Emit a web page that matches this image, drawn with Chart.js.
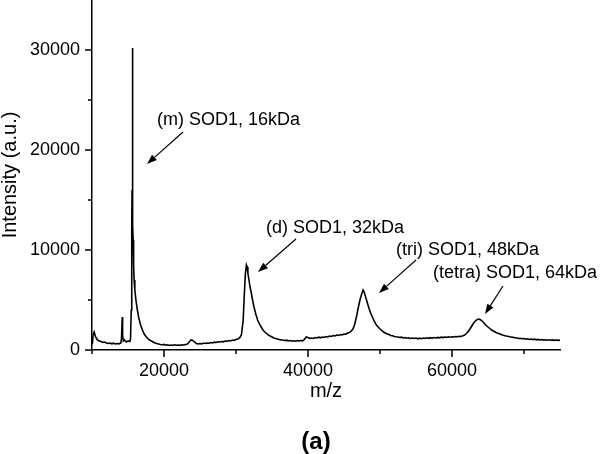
<!DOCTYPE html>
<html>
<head>
<meta charset="utf-8">
<script src="https://cdn.jsdelivr.net/npm/chart.js@4/dist/chart.umd.min.js"></script>
<style>
  html, body { margin: 0; padding: 0; background: #fff; }
  canvas { display: block; }
</style>
</head>
<body>
<canvas id="c" width="600" height="454"></canvas>
<script>
// ---- data ----
const massCharge = [
  10050,10150,10300,10500,10750,11000,11250,11500,11750,12000,12250,12500,12750,13000,13250,13500,13750,14000,
  14100,14200,14250,14350,14500,14750,15000,15250,15350,15450,15520,15560,15600,15640,15680,15720,15780,15850,15950,
  16100,16300,16500,16750,17000,17250,17500,17750,18000,18250,18500,18750,19000,19250,19500,19750,
  20000,20250,20500,20750,21000,21250,21500,21750,22000,22250,22500,22750,23000,23250,23500,23750,
  24000,24250,24500,24750,25000,25250,25500,25750,26000,26250,26500,26750,27000,27250,27500,27750,
  28000,28250,28500,28750,29000,29250,29500,29750,30000,30250,30500,30750,31000,31150,31300,31450,31550,31650,31800,31950,
  32100,32300,32500,32750,33000,33250,33500,33750,34000,34250,34500,34750,35000,35250,35500,35750,
  36000,36250,36500,36750,37000,37250,37500,37750,38000,38250,38500,38750,39000,39250,39500,39750,
  40000,40250,40500,40750,41000,41250,41500,41750,42000,42250,42500,42750,43000,43250,43500,43750,
  44000,44250,44500,44750,45000,45250,45500,45750,46000,46250,46500,46750,47000,47250,47500,47650,47800,
  48000,48250,48500,48750,49000,49250,49500,49750,50000,50250,50500,50750,51000,51250,51500,51750,
  52000,52250,52500,52750,53000,53250,53500,53750,54000,54250,54500,54750,55000,55250,55500,55750,
  56000,56250,56500,56750,57000,57250,57500,57750,58000,58250,58500,58750,59000,59250,59500,59750,
  60000,60250,60500,60750,61000,61250,61500,61750,62000,62250,62500,62750,63000,63250,63500,63750,
  64000,64250,64500,64750,65000,65250,65500,65750,66000,66250,66500,66750,67000,67250,67500,67750,
  68000,68250,68500,68750,69000,69250,69500,69750,70000,70250,70500,70750,71000,71250,71500,71750,
  72000,72250,72500,72750,73000,73250,73500,73750,74000,74250,74500,74750,75000
];
const intensity = [
  600,1500,1800,1300,1000,900,850,750,800,700,650,700,620,680,600,650,620,700,
  1200,3300,1500,900,1000,800,900,850,1100,4000,12000,16000,30200,15000,12500,11000,8500,7000,6000,
  5000,4000,3200,2500,2000,1600,1350,1150,1000,900,800,700,650,600,550,520,
  560,480,520,450,500,470,520,480,500,460,520,500,550,600,800,1000,
  950,800,650,600,650,600,700,650,700,680,750,700,780,750,820,800,
  850,820,900,880,950,900,1000,950,1050,1100,1200,1500,3000,5500,7600,8500,8300,7700,7000,6300,
  5800,5000,4300,3600,3000,2600,2300,2000,1800,1650,1500,1400,1300,1200,1150,1100,
  1050,1000,1000,950,980,900,950,900,930,880,950,900,950,920,1050,1300,
  1250,1150,1200,1150,1250,1200,1280,1220,1300,1250,1350,1300,1400,1350,1450,1400,
  1500,1450,1550,1500,1600,1580,1700,1750,1900,2100,2600,3400,4300,5100,5700,6000,5800,
  5300,4700,4100,3600,3200,2800,2500,2300,2100,1950,1800,1700,1600,1550,1450,1420,
  1350,1320,1300,1250,1280,1200,1250,1180,1220,1150,1200,1150,1200,1120,1180,1130,
  1200,1150,1220,1170,1230,1180,1250,1200,1260,1220,1280,1240,1300,1260,1320,1280,
  1330,1300,1350,1330,1380,1350,1420,1500,1650,1850,2100,2400,2700,2900,3050,3100,
  3000,2850,2650,2450,2300,2150,2000,1900,1800,1700,1650,1580,1500,1450,1400,1370,
  1320,1300,1260,1230,1200,1150,1180,1120,1150,1080,1120,1050,1100,1040,1080,1020,
  1060,1000,1050,990,1030,980,1020,970,1010,960,1000,960,990
];

const xTickValues = [10000, 20000, 30000, 40000, 50000, 60000, 70000];
const xLabelledTicks = [20000, 40000, 60000];
const yTickValues = [0, 5000, 10000, 15000, 20000, 25000, 30000];
const yLabelledTicks = [0, 10000, 20000, 30000];

const peakLabels = ['(m) SOD1, 16kDa', '(d) SOD1, 32kDa', '(tri) SOD1, 48kDa', '(tetra) SOD1, 64kDa'];
const labelMz = [19030, 34170, 52220, 57360];
const labelInt = [23000, 12200, 10000, 7700];
const arrowFromMz = [22640, 38330, 55000, 67080];
const arrowFromInt = [21800, 11100, 9000, 6400];
const arrowToMz = [17640, 33060, 49860, 64580];
const arrowToInt = [18600, 7800, 5700, 3600];

// ---- chart ----
const FONT = '"Liberation Sans", Arial, Helvetica, sans-serif';
Chart.defaults.font.family = FONT;
Chart.defaults.color = '#000';

const points = massCharge.map((m, i) => ({ x: m, y: intensity[i] }));

const decorations = {
  id: 'decorations',
  afterDraw(chart) {
    const { ctx, scales: { x, y } } = chart;
    ctx.save();
    ctx.strokeStyle = '#000';
    ctx.fillStyle = '#000';
    ctx.lineWidth = 1.5;
    ctx.beginPath();
    xTickValues.forEach(v => {
      const px = x.getPixelForValue(v);
      const len = xLabelledTicks.includes(v) ? 7 : 4;
      ctx.moveTo(px, y.bottom);
      ctx.lineTo(px, y.bottom + len);
    });
    yTickValues.forEach(v => {
      const py = y.getPixelForValue(v);
      const len = yLabelledTicks.includes(v) ? 7 : 4;
      ctx.moveTo(x.left - len, py);
      ctx.lineTo(x.left, py);
    });
    ctx.stroke();

    // arrows
    ctx.lineWidth = 1.2;
    for (let i = 0; i < peakLabels.length; i++) {
      const x0 = x.getPixelForValue(arrowFromMz[i]), y0 = y.getPixelForValue(arrowFromInt[i]);
      const x1 = x.getPixelForValue(arrowToMz[i]), y1 = y.getPixelForValue(arrowToInt[i]);
      const ang = Math.atan2(y1 - y0, x1 - x0);
      const hl = 10, hw = 3.6;
      const bx = x1 - hl * Math.cos(ang), by = y1 - hl * Math.sin(ang);
      ctx.beginPath();
      ctx.moveTo(x0, y0);
      ctx.lineTo(bx, by);
      ctx.stroke();
      ctx.beginPath();
      ctx.moveTo(x1, y1);
      ctx.lineTo(bx + hw * Math.sin(ang), by - hw * Math.cos(ang));
      ctx.lineTo(bx - hw * Math.sin(ang), by + hw * Math.cos(ang));
      ctx.closePath();
      ctx.fill();
    }
    // labels
    ctx.font = '18px ' + FONT;
    ctx.textBaseline = 'middle';
    ctx.textAlign = 'left';
    for (let i = 0; i < peakLabels.length; i++) {
      ctx.fillText(peakLabels[i], x.getPixelForValue(labelMz[i]), y.getPixelForValue(labelInt[i]));
    }
    // panel label
    ctx.font = 'bold 24px ' + FONT;
    ctx.textAlign = 'center';
    ctx.fillText('(a)', 316, 442);
    ctx.restore();
  }
};

new Chart(document.getElementById('c'), {
  type: 'line',
  data: {
    datasets: [{
      data: points,
      borderColor: '#000',
      borderWidth: 1.6,
      pointRadius: 0,
      tension: 0,
      fill: false
    }]
  },
  options: {
    responsive: false,
    animation: false,
    devicePixelRatio: 1,
    layout: { padding: { left: 0, right: 40, top: 0, bottom: 0 } },
    plugins: { legend: { display: false }, tooltip: { enabled: false } },
    scales: {
      x: {
        type: 'linear',
        min: 10000,
        max: 75000,
        afterBuildTicks: s => { s.ticks = xTickValues.map(v => ({ value: v })); },
        afterFit: s => { s.height = 104; s.paddingLeft = 0; s.paddingRight = 0; },
        ticks: {
          autoSkip: false,
          maxRotation: 0,
          padding: 3,
          font: { size: 18 },
          callback: v => xLabelledTicks.includes(v) ? String(v) : ''
        },
        grid: { drawOnChartArea: false, drawTicks: true, tickLength: 7, tickColor: 'rgba(0,0,0,0)' },
        border: { display: true, color: '#000', width: 1.5 },
        title: { display: true, text: 'm/z', font: { size: 20, lineHeight: 1 }, padding: { top: 0, bottom: 53 } }
      },
      y: {
        min: 0,
        max: 35000,
        afterBuildTicks: s => { s.ticks = yTickValues.map(v => ({ value: v })); },
        afterFit: s => { s.width = 92; s.paddingTop = 0; s.paddingBottom = 0; },
        ticks: {
          autoSkip: false,
          padding: 5,
          font: { size: 18 },
          callback: v => yLabelledTicks.includes(v) ? String(v) : ''
        },
        grid: { drawOnChartArea: false, drawTicks: true, tickLength: 7, tickColor: 'rgba(0,0,0,0)' },
        border: { display: true, color: '#000', width: 1.5 },
        title: { display: true, text: 'Intensity (a.u.)', font: { size: 20, lineHeight: 1 }, padding: { top: 0, bottom: 0 } }
      }
    }
  },
  plugins: [decorations]
});
</script>
</body>
</html>
